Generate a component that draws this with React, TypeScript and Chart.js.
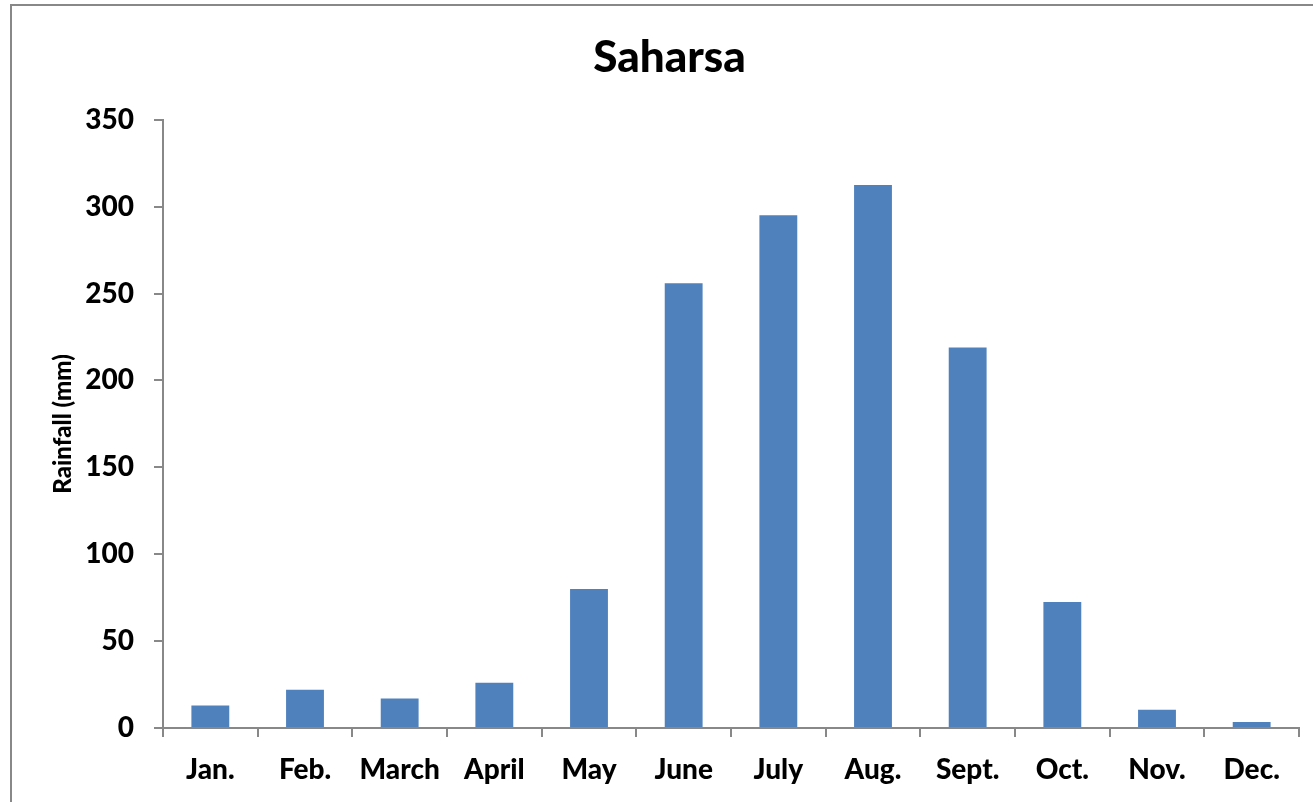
import React, { useEffect, useRef } from "react";
import { Chart, registerables } from "chart.js";

Chart.register(...registerables);

const categories = ["Jan.", "Feb.", "March", "April", "May", "June", "July", "Aug.", "Sept.", "Oct.", "Nov.", "Dec."];
const rainfall = [13, 22, 17, 26, 80, 256, 295, 312.5, 219, 72.5, 10.5, 3.5];
const chartTitle = "Saharsa";
const yAxisTitle = "Rainfall (mm)";
const yMin = 0;
const yMax = 350;
const yStep = 50;

const FONT = "Lato, 'Noto Sans', sans-serif";

export default function App() {
  const ref = useRef<HTMLCanvasElement | null>(null);

  useEffect(() => {
    if (!ref.current) return;
    const chart = new Chart(ref.current, {
      type: "bar",
      data: {
        labels: categories,
        datasets: [
          {
            label: "Rainfall",
            data: rainfall,
            backgroundColor: "#4F81BD",
            borderWidth: 0,
            barPercentage: 0.4,
            categoryPercentage: 1,
          },
        ],
      },
      options: {
        animation: false,
        responsive: false,
        maintainAspectRatio: false,
        layout: { padding: { left: 40, right: 14, top: 0, bottom: 0 } },
        plugins: {
          legend: { display: false },
          tooltip: { enabled: false },
          title: {
            display: true,
            text: chartTitle,
            color: "#000",
            font: { family: FONT, size: 44, weight: "900" },
            padding: { top: 31, bottom: 36 },
          },
        },
        scales: {
          x: {
            grid: {
              display: true,
              drawOnChartArea: false,
              drawTicks: true,
              tickLength: 9,
              color: "#888888",
              lineWidth: 2,
              offset: true,
            },
            border: { display: true, color: "#888888", width: 2 },
            ticks: {
              color: "#000",
              font: { family: FONT, size: 28, weight: "900" },
              padding: 16,
              maxRotation: 0,
              autoSkip: false,
            },
            afterFit: (scale: any) => {
              scale.height = 74;
            },
          },
          y: {
            min: yMin,
            max: yMax,
            grid: {
              display: true,
              drawOnChartArea: false,
              drawTicks: true,
              tickLength: 9,
              color: "#888888",
              lineWidth: 2,
            },
            border: { display: true, color: "#888888", width: 2 },
            ticks: {
              stepSize: yStep,
              color: "#000",
              font: { family: FONT, size: 28, weight: "900" },
              padding: 20,
            },
            title: {
              display: true,
              text: yAxisTitle,
              color: "#000",
              font: { family: FONT, size: 24, weight: "900" },
              padding: { top: 9, bottom: 0 },
            },
            afterFit: (scale: any) => {
              scale.width = 123;
            },
          },
        },
      },
    });
    return () => chart.destroy();
  }, []);

  return (
    <div
      style={{
        position: "absolute",
        left: 0,
        top: 0,
        width: 1313,
        height: 802,
        overflow: "hidden",
        background: "#fff",
      }}
    >
      <div
        style={{
          position: "absolute",
          left: 10,
          top: 4,
          width: 1400,
          height: 900,
          border: "2px solid #888888",
          boxSizing: "border-box",
        }}
      />
      <canvas ref={ref} width={1313} height={802} style={{ position: "absolute", left: 0, top: 0 }} />
    </div>
  );
}
